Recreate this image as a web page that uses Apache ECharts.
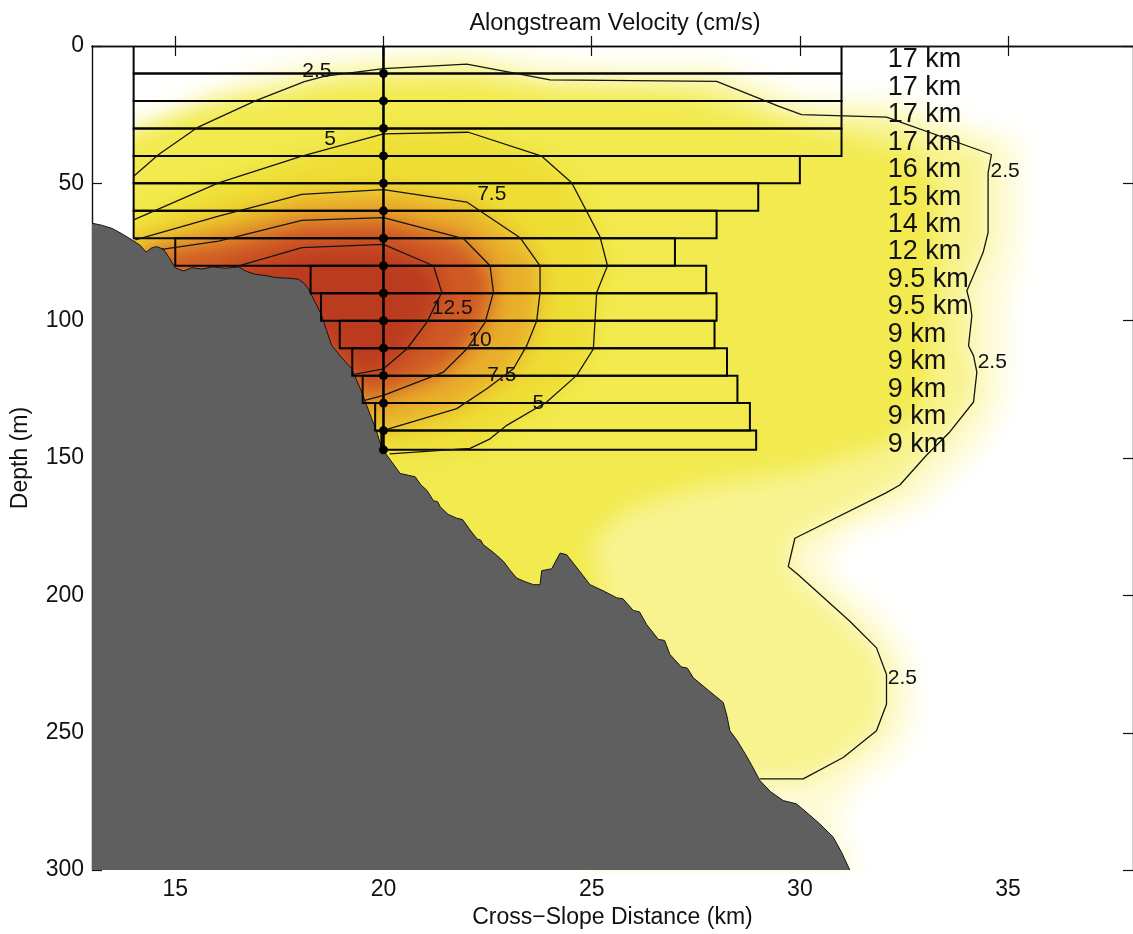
<!DOCTYPE html>
<html>
<head>
<meta charset="utf-8">
<script src="https://cdn.jsdelivr.net/npm/echarts@6/dist/echarts.min.js"></script>
<style>
  html, body { margin: 0; padding: 0; background: #ffffff; }
  #field, #chart { position: absolute; left: 0; top: 0; width: 1133px; height: 934px; }
  #field { filter: blur(11px); }
</style>
</head>
<body>
<div id="field"></div>
<div id="chart"></div>
<script>
// ---------- axes ----------
const xTicks = [15, 20, 25, 30, 35];
const xRange = [13, 38];
const yRange = [0, 300];

// ---------- station rows (depth bins of the section) ----------
const rowTop    = [0, 10, 20, 30, 40, 50, 60, 70, 80, 90, 100, 110, 120, 130, 140];
const rowBottom = [10, 20, 30, 40, 50, 60, 70, 80, 90, 100, 110, 120, 130, 140, 147];
const rowLeft   = [14, 14, 14, 14, 14, 14, 14, 15, 18.25, 18.5, 18.95, 19.25, 19.5, 19.8, 19.95];
const rowWidth  = [17, 17, 17, 17, 16, 15, 14, 12, 9.5, 9.5, 9, 9, 9, 9, 9];
const rowLabelX = 32.1;

// ---------- mooring ----------
const stationX = 20;
const stationDepths = [10, 20, 30, 40, 50, 60, 70, 80, 90, 100, 110, 120, 130, 140, 147];
const stationBottom = 147;

// ---------- velocity contours (km, m) ----------
const contour25 = [[14.0,47.4],[14.6,39.5],[15.55,29.5],[16.92,20.0],[18.1,13.0],[18.6,11.0],[20.0,8.2],[22.0,6.6],[24.0,12.3],[28.0,12.9],[29.5,22.0],[30.04,25.0],[32.08,25.9],[34.6,39.5],[34.52,46.2],[34.52,67.9],[34.4,75.2],[34.13,84.9],[34.01,89.1],[34.09,93.9],[34.13,98.2],[34.05,109.1],[34.17,112.7],[34.25,118.7],[34.17,129.6],[33.6,140.5],[33.04,149],[32.4,159.8],[32.08,162.6],[29.88,179.2],[29.72,189.5],[29.96,192.5],[31.2,209.4],[31.84,219.1],[32.08,228.8],[32.08,239.6],[31.84,249.3],[31.04,259.0],[30.08,266.8],[29.04,266.8]];
const contour5 = [[14.0,63.3],[16.04,49.8],[18.04,40.1],[20.0,32.0],[22.04,31.4],[23.8,40.1],[24.52,49.8],[25.2,69.5],[25.38,80.0],[25.12,89.7],[25.04,110.3],[24.64,119.9],[23.92,129.6],[22.96,138.1],[22.56,143.0],[22.08,146.5],[20.15,148.5]];
const contour75 = [[14.04,70.6],[16.04,61.9],[18.04,54.0],[20.0,52.3],[22.0,56.8],[23.28,69.8],[23.76,80.0],[23.76,89.7],[23.68,100.0],[23.44,109.1],[23.12,117.5],[22.48,124.8],[21.76,132.0],[20.0,139.9],[19.82,140.5]];
const contour10 = [[14.68,74.0],[16.04,71.0],[18.04,63.5],[20.0,62.5],[21.92,70.1],[22.56,80.0],[22.64,89.7],[22.44,100.6],[22.0,110.3],[21.44,118.7],[20.0,127.2],[19.55,129.0]];
const contour125 = [[16.4,80.6],[18.04,73.4],[20.0,72.2],[21.2,80.0],[21.4,89.7],[21.04,100.6],[20.56,110.3],[20.0,117.5],[19.3,119.5]];

// contour labels: [km, depth, text]
const contourLabels = [
  [18.4, 9.3, '2.5'], [18.72, 33.8, '5'], [22.6, 54.0, '7.5'],
  [21.65, 95.5, '12.5'], [22.32, 107.0, '10'], [22.84, 119.7, '7.5'], [23.72, 130.2, '5'],
  [34.93, 45.6, '2.5'], [34.62, 115.1, '2.5'], [32.46, 230.0, '2.5']
];

// ---------- shaded velocity field: closed regions above a level ----------
// closing points run under the sea floor where the bathymetry hides them
const outerRegion = [[13,40],[14,33],[15.5,18],[17,9],[18.5,4],[20,2.5],[22,1.5],[24,5.5],[28,6.5],[29.6,15],[30.2,18],[32.4,19],[35.3,35],[35.3,70],[35.0,90],[34.9,130],[34.3,146],[33.5,158],[32.8,168],[31.0,178],[30.6,190],[31.8,205],[32.6,220],[32.8,240],[32.4,255],[31.4,268],[30.8,280],[31.4,300],[25,300],[20,200],[16,120],[13,100]];
const region25 = [[13,57]].concat(contour25, [[28,272],[22,205],[17,120],[13,100]]);
const brightRegion = [[13,40],[14,30],[16,20],[18,15],[20,13],[22,12],[24,16],[27,17],[29,25],[31,32],[32.6,38],[33.3,50],[33.3,80],[33.2,110],[33.0,130],[32.0,145],[30.0,154],[27.5,160],[25.8,168],[25.0,180],[25.2,198],[26.0,216],[27.0,238],[28.0,262],[28,272],[22,205],[17,120],[13,100]];
const region5 = [[13,70]].concat(contour5, [[19,140],[16,100],[13,90]]);
const region75 = [[13.5,75]].concat(contour75, [[18,115],[15,90],[13.5,85]]);
const region10 = [[14.2,78]].concat(contour10, [[18,105],[15.5,88]]);
const region125 = [[16.0,83]].concat(contour125, [[18.3,102],[17,90]]);

const fieldRegions = [outerRegion, region25, brightRegion, region5, region75, region10, region125];
const fieldValues  = [1.0, 2.5, 4.2, 6.3, 8.8, 11.8, 14.5];

// colour scale, cm/s from 0 to 15
const velocityColors = ['#ffffff','#fdfbd6','#faf6a6','#f6f078','#f3eb52','#f0e53c','#eee034','#eed530','#ecc42c','#e8a82a','#e38a28','#da6c26','#ce5424','#c44622','#bd3e20','#b8381e'];

// ---------- sea floor ----------
const seabed = [[13.0,64.5],[13.25,65.3],[13.48,66.4],[13.7,68.2],[13.96,70.6],[14.15,72.5],[14.3,75.0],[14.42,73.6],[14.55,73.0],[14.72,74.0],[14.85,77.0],[15.0,80.8],[15.2,81.9],[15.4,80.7],[15.64,81.2],[15.9,80.4],[16.2,80.9],[16.52,80.4],[16.7,82.0],[16.92,83.1],[17.2,83.6],[17.4,84.3],[17.7,84.5],[17.96,84.9],[18.1,86.5],[18.2,88.5],[18.35,93.0],[18.52,98.2],[18.62,103.0],[18.76,109.1],[19.0,113.5],[19.24,117.5],[19.35,121.5],[19.48,126.0],[19.6,131.0],[19.72,135.7],[19.85,141.0],[19.96,146.5],[20.2,151.4],[20.4,155.6],[20.6,156.3],[20.76,156.8],[20.9,159.8],[21.04,161.7],[21.2,165.5],[21.3,165.9],[21.36,167.7],[21.55,170.5],[21.76,171.9],[21.9,172.4],[22.08,176.2],[22.25,179.5],[22.33,179.8],[22.4,181.6],[22.65,184.5],[22.88,187.6],[23.05,191.0],[23.2,193.7],[23.4,195.0],[23.6,196.1],[23.76,196.1],[23.8,191.0],[24.04,190.3],[24.24,184.6],[24.4,185.2],[24.7,191.0],[24.96,196.1],[25.3,198.5],[25.6,200.9],[25.75,201.2],[26.0,205.5],[26.15,206.0],[26.32,210.6],[26.6,216.0],[26.75,216.4],[26.88,221.5],[27.15,226.0],[27.3,226.5],[27.44,230.0],[27.8,234.5],[28.16,239.0],[28.25,244.0],[28.32,249.3],[28.5,253.0],[28.7,258.0],[28.85,262.0],[29.04,267.4],[29.3,271.5],[29.6,274.7],[29.92,275.9],[30.2,279.5],[30.48,283.2],[30.8,288.0],[31.0,293.5],[31.2,300.0],[31.3,305],[12.5,305],[12.5,64.5]];

// ---------- shared layout ----------
const FONT = '"Liberation Sans", Arial, Helvetica, sans-serif';
const INK = '#111111';
const grid = { left: 92, top: 46, right: 0, bottom: 61 };

// ---------- shaded field layer ----------
const fieldChart = echarts.init(document.getElementById('field'));
fieldChart.setOption({
  animation: false,
  grid: grid,
  xAxis: { type: 'value', min: xRange[0], max: xRange[1], show: false },
  yAxis: { type: 'value', min: yRange[0], max: yRange[1], inverse: true, show: false },
  visualMap: {
    type: 'continuous', show: false, min: 0, max: 15, dimension: 0, seriesIndex: 0,
    inRange: { color: velocityColors }
  },
  series: [{
    type: 'custom',
    clip: false,
    silent: true,
    data: fieldValues.map((v, i) => [v, i]),
    renderItem: function (params, api) {
      const poly = fieldRegions[params.dataIndex];
      return {
        type: 'polygon',
        shape: { points: poly.map(p => api.coord(p)) },
        style: { fill: api.visual('color') }
      };
    }
  }]
});
// the field only exists seaward of the 14 km column and inside the axes
(function () {
  const p0 = fieldChart.convertToPixel({ xAxisIndex: 0, yAxisIndex: 0 }, [14, 0]);
  const p1 = fieldChart.convertToPixel({ xAxisIndex: 0, yAxisIndex: 0 }, [38, 300]);
  const el = document.getElementById('field');
  el.style.clipPath = 'inset(' + p0[1] + 'px ' + (1133 - p1[0]) + 'px ' + (934 - p1[1]) + 'px ' + (p0[0] - 0.5) + 'px)';
})();

// ---------- main chart ----------
const axisLineStyle = { color: INK, width: 1.4 };
const rowData = rowTop.map((t, i) => [rowLeft[i], t, rowLeft[i] + rowWidth[i], rowBottom[i]]);
const rowLabels = rowTop.map((t, i) => [rowLabelX, t + 5, rowWidth[i] + ' km']);

function contourSeries(points) {
  return {
    type: 'line', data: points, symbol: 'none', silent: true, z: 4,
    lineStyle: { color: '#151515', width: 1.3 }
  };
}

const chart = echarts.init(document.getElementById('chart'));
chart.setOption({
  backgroundColor: 'transparent',
  animation: false,
  title: {
    text: 'Alongstream Velocity (cm/s)', left: 610, top: 7, textAlign: 'center',
    textStyle: { fontFamily: FONT, fontSize: 23.5, fontWeight: 'normal', color: INK }
  },
  grid: grid,
  xAxis: [{
    type: 'value', min: xRange[0], max: xRange[1], position: 'bottom',
    name: 'Cross\u2212Slope Distance (km)', nameLocation: 'middle', nameGap: 30,
    nameTextStyle: { fontFamily: FONT, fontSize: 23, color: INK },
    axisLine: { show: true, lineStyle: axisLineStyle },
    axisTick: { show: true, inside: true, length: 10, customValues: xTicks, lineStyle: { color: INK, width: 1.2 } },
    axisLabel: { customValues: xTicks, margin: 8, fontFamily: FONT, fontSize: 23, color: INK },
    splitLine: { show: false }
  }, {
    type: 'value', min: xRange[0], max: xRange[1], position: 'top',
    axisLine: { show: true, onZero: false, lineStyle: axisLineStyle },
    axisTick: { show: true, inside: true, length: 10, customValues: xTicks, lineStyle: { color: INK, width: 1.2 } },
    axisLabel: { show: false },
    splitLine: { show: false }
  }],
  yAxis: [{
    type: 'value', min: yRange[0], max: yRange[1], interval: 50, inverse: true, position: 'left',
    name: 'Depth (m)', nameLocation: 'middle', nameRotate: 90, nameGap: 60,
    nameTextStyle: { fontFamily: FONT, fontSize: 23, color: INK },
    axisLine: { show: true, onZero: false, lineStyle: axisLineStyle },
    axisTick: { show: true, inside: true, length: 10, lineStyle: { color: INK, width: 1.2 } },
    axisLabel: { margin: 8, fontFamily: FONT, fontSize: 23, color: INK },
    splitLine: { show: false }
  }, {
    type: 'value', min: yRange[0], max: yRange[1], interval: 50, inverse: true, position: 'right',
    axisLine: { show: true, onZero: false, lineStyle: axisLineStyle },
    axisTick: { show: true, inside: true, length: 10, lineStyle: { color: INK, width: 1.2 } },
    axisLabel: { show: false },
    splitLine: { show: false }
  }],
  series: [
    {
      // sea floor
      type: 'custom', silent: true, clip: true, z: 2, data: [0],
      renderItem: function (params, api) {
        return {
          type: 'polygon',
          shape: { points: seabed.map(p => api.coord(p)) },
          style: { fill: '#5f5f5f', stroke: '#141414', lineWidth: 1 }
        };
      }
    },
    {
      // depth bins with their cross-slope extent
      type: 'custom', silent: true, clip: true, z: 3, data: rowData,
      renderItem: function (params, api) {
        const a = api.coord([api.value(0), api.value(1)]);
        const b = api.coord([api.value(2), api.value(3)]);
        return {
          type: 'rect',
          shape: { x: a[0], y: a[1], width: b[0] - a[0], height: b[1] - a[1] },
          style: { fill: 'none', stroke: '#050505', lineWidth: 2 }
        };
      }
    },
    contourSeries(contour25),
    contourSeries(contour5),
    contourSeries(contour75),
    contourSeries(contour10),
    contourSeries(contour125),
    {
      // mooring line
      type: 'line', silent: true, z: 5, symbol: 'none',
      data: [[stationX, 0], [stationX, stationBottom]],
      lineStyle: { color: '#000000', width: 2.6 }
    },
    {
      // instruments
      type: 'scatter', silent: true, z: 6, symbol: 'circle', symbolSize: 9,
      data: stationDepths.map(d => [stationX, d]),
      itemStyle: { color: '#000000', opacity: 1 }
    },
    {
      // contour level labels
      type: 'scatter', silent: true, z: 7, symbolSize: 1,
      data: contourLabels,
      itemStyle: { color: 'rgba(0,0,0,0)', opacity: 1 },
      label: {
        show: true, position: 'inside', formatter: p => p.value[2],
        fontFamily: FONT, fontSize: 21, color: INK
      }
    },
    {
      // width of each depth bin
      type: 'scatter', silent: true, z: 7, symbolSize: 1,
      data: rowLabels,
      itemStyle: { color: 'rgba(0,0,0,0)', opacity: 1 },
      label: {
        show: true, position: 'right', distance: 0, align: 'left', formatter: p => p.value[2],
        fontFamily: FONT, fontSize: 27, color: INK
      }
    }
  ]
});
</script>
</body>
</html>
